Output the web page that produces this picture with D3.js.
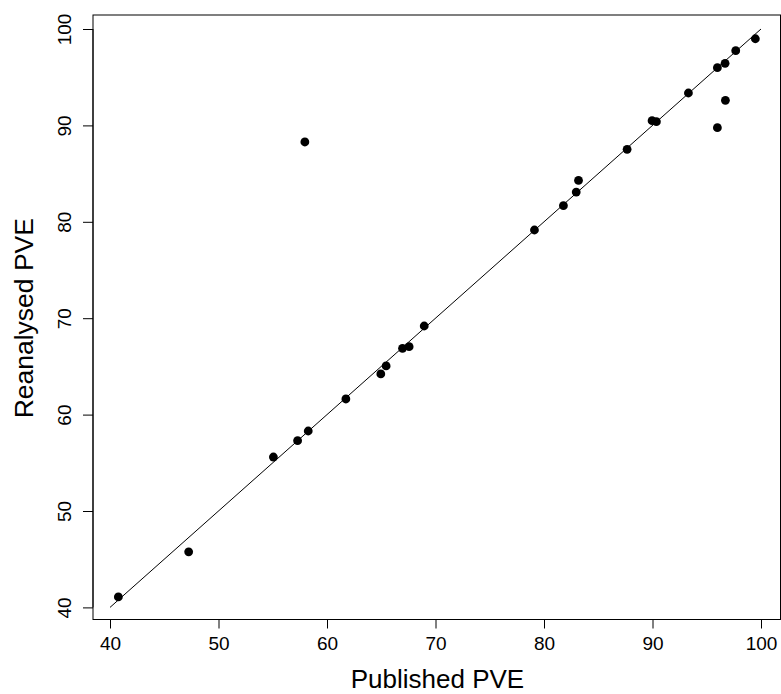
<!DOCTYPE html>
<html><head><meta charset="utf-8">
<script src="https://cdn.jsdelivr.net/npm/d3@7"></script>
<style>body{margin:0;background:#fff}svg{display:block}text{font-family:"Liberation Sans",Arial,Helvetica,sans-serif;fill:#000}</style>
</head><body>
<script>
const publishedPVE = [40.77,47.25,55.06,57.29,58.27,57.96,61.74,64.96,65.45,66.96,67.57,68.96,79.12,81.79,82.97,83.18,87.66,89.96,90.36,93.31,95.98,95.98,96.69,96.72,97.67,99.48];
const reanalysedPVE = [41.09,45.76,55.60,57.30,58.30,88.28,61.62,64.22,65.05,66.88,67.05,69.19,79.15,81.67,83.08,84.29,87.52,90.49,90.39,93.36,95.99,89.76,96.44,92.60,97.75,98.99];
const xTicks = [40,50,60,70,80,90,100];
const yTicks = [40,50,60,70,80,90,100];
const xTitle = "Published PVE";
const yTitle = "Reanalysed PVE";

const W = 781, H = 694;
const box = {left:93, right:780.5, top:15, bottom:619.5};
const svg = d3.select("body").append("svg").attr("width",W).attr("height",H);
const x = d3.scaleLinear().domain([40,100]).range([110,761]);
const y = d3.scaleLinear().domain([40,100]).range([607.4,29]);

// box
svg.append("rect").attr("x",box.left).attr("y",box.top)
  .attr("width",box.right-box.left).attr("height",box.bottom-box.top)
  .attr("fill","none").attr("stroke","#000").attr("stroke-width",1);

// x axis
const xa = svg.append("g").attr("transform",`translate(0,${box.bottom})`)
  .call(d3.axisBottom(x).tickValues(xTicks).tickSize(9).tickPadding(8).tickFormat(d3.format("d")));
xa.select(".domain").attr("d",`M${x(40)},0H${x(100)}`);
xa.selectAll("text").style("font-size","19px").attr("font-family",null);
xa.selectAll("line").attr("stroke","#000");

// y axis
const ya = svg.append("g").attr("transform",`translate(${box.left},0)`)
  .call(d3.axisLeft(y).tickValues(yTicks).tickSize(10).tickPadding(0).tickFormat(d3.format("d")));
ya.select(".domain").attr("d",`M0,${y(40)}V${y(100)}`);
ya.selectAll(".tick text").attr("x",null).attr("dy",null)
  .attr("text-anchor","middle").attr("transform","translate(-22.5,0) rotate(-90)")
  .style("font-size","19px");
ya.selectAll("line").attr("stroke","#000");

// titles
svg.append("text").attr("x",(x(40)+x(100))/2+2).attr("y",688)
  .attr("text-anchor","middle").style("font-size","26px").text(xTitle);
svg.append("text").attr("transform",`translate(33,${(y(40)+y(100))/2}) rotate(-90)`)
  .attr("text-anchor","middle").style("font-size","26.5px").text(yTitle);

// identity line
svg.append("line").attr("x1",x(40)).attr("y1",y(40)).attr("x2",x(100)).attr("y2",y(100))
  .attr("stroke","#000").attr("stroke-width",1);

// points
svg.append("g").selectAll("circle").data(publishedPVE).join("circle")
  .attr("cx",(d)=>x(d)).attr("cy",(d,i)=>y(reanalysedPVE[i])).attr("r",4.4).attr("fill","#000");
</script>
</body></html>
